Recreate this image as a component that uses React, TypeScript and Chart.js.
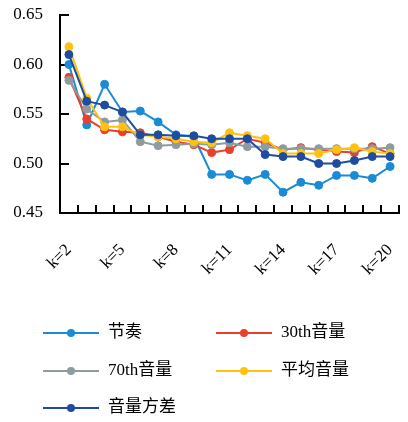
import React, { useEffect, useRef } from "react";
import { Chart, registerables } from "chart.js";

Chart.register(...registerables);

const categories = [
  "k=2", "k=3", "k=4", "k=5", "k=6", "k=7", "k=8", "k=9", "k=10", "k=11",
  "k=12", "k=13", "k=14", "k=15", "k=16", "k=17", "k=18", "k=19", "k=20",
];

const rhythm = [0.600, 0.539, 0.580, 0.552, 0.553, 0.542, 0.529, 0.527, 0.489, 0.489, 0.483, 0.489, 0.471, 0.481, 0.478, 0.488, 0.488, 0.485, 0.497];
const vol30 = [0.587, 0.545, 0.534, 0.532, 0.531, 0.527, 0.522, 0.519, 0.511, 0.514, 0.525, 0.521, 0.514, 0.516, 0.514, 0.512, 0.511, 0.517, 0.510];
const vol70 = [0.584, 0.555, 0.542, 0.544, 0.522, 0.518, 0.519, 0.520, 0.519, 0.521, 0.517, 0.517, 0.515, 0.515, 0.515, 0.515, 0.515, 0.515, 0.516];
const volMean = [0.618, 0.566, 0.537, 0.537, 0.529, 0.527, 0.525, 0.522, 0.521, 0.531, 0.528, 0.525, 0.510, 0.510, 0.510, 0.514, 0.516, 0.512, 0.510];
const volVar = [0.610, 0.563, 0.559, 0.552, 0.529, 0.529, 0.528, 0.528, 0.525, 0.525, 0.525, 0.509, 0.507, 0.507, 0.500, 0.500, 0.503, 0.507, 0.507];

const seriesNames = ["节奏", "30th音量", "70th音量", "平均音量", "音量方差"];
const seriesColors = ["#1a8bd4", "#e8402a", "#8e9ba1", "#ffc20e", "#1f4c9e"];
const seriesValues = [rhythm, vol30, vol70, volMean, volVar];

const yTicks = [0.45, 0.5, 0.55, 0.6, 0.65];

const FONT = '"Liberation Serif", "Noto Sans CJK SC", serif';

const gridLegend = {
  id: "gridLegend",
  afterDraw(chart: any) {
    const ctx = chart.ctx;
    const cols = [43, 216];
    const rows = [333, 371, 408];
    chart.data.datasets.forEach((ds: any, i: number) => {
      const x = cols[i % 2];
      const y = rows[Math.floor(i / 2)];
      ctx.save();
      ctx.strokeStyle = ds.borderColor;
      ctx.lineWidth = 2;
      ctx.beginPath();
      ctx.moveTo(x, y);
      ctx.lineTo(x + 56, y);
      ctx.stroke();
      ctx.fillStyle = ds.borderColor;
      ctx.beginPath();
      ctx.arc(x + 28, y, 4, 0, Math.PI * 2);
      ctx.fill();
      ctx.fillStyle = "#000";
      ctx.font = "17px " + FONT;
      ctx.textBaseline = "middle";
      ctx.textAlign = "left";
      ctx.fillText(ds.label, x + 65, y);
      ctx.restore();
    });
  },
};

export default function App() {
  const ref = useRef<HTMLCanvasElement | null>(null);

  useEffect(() => {
    if (!ref.current) return;
    const chart = new Chart(ref.current, {
      type: "line",
      data: {
        labels: categories,
        datasets: seriesValues.map((vals, i) => ({
          label: seriesNames[i],
          data: vals,
          borderColor: seriesColors[i],
          backgroundColor: seriesColors[i],
          pointBackgroundColor: seriesColors[i],
          pointBorderColor: seriesColors[i],
          pointBorderWidth: 1,
          pointRadius: 4,
          borderWidth: 2,
          tension: 0,
          order: seriesValues.length - i,
        })),
      },
      options: {
        animation: false,
        responsive: true,
        maintainAspectRatio: false,
        layout: { padding: { top: 15, right: 9, left: 0, bottom: 0 } },
        plugins: {
          legend: { display: false },
          tooltip: { enabled: false },
        },
        scales: {
          x: {
            type: "category",
            offset: true,
            border: { display: true, color: "#000", width: 2 },
            grid: {
              offset: true,
              drawOnChartArea: false,
              drawTicks: true,
              tickLength: -8,
              color: "#000",
              lineWidth: 2,
            },
            ticks: {
              autoSkip: false,
              minRotation: 45,
              maxRotation: 45,
              padding: 35,
              color: "#000",
              font: { family: FONT, size: 17 },
              callback: (_v: any, idx: number) => (idx % 3 === 0 ? categories[idx] : ""),
            },
            afterFit: (scale: any) => {
              scale.height = 209;
              scale.paddingLeft = 0;
              scale.paddingRight = 0;
              scale.paddingTop = 0;
              scale.paddingBottom = 0;
            },
          },
          y: {
            min: 0.45,
            max: 0.65,
            border: { display: true, color: "#000", width: 2 },
            grid: {
              drawOnChartArea: false,
              drawTicks: true,
              tickLength: -9,
              color: "#000",
              lineWidth: 2,
            },
            afterBuildTicks: (scale: any) => {
              scale.ticks = yTicks.map((v) => ({ value: v }));
            },
            ticks: {
              padding: 26,
              color: "#000",
              font: { family: FONT, size: 17 },
              callback: (v: any) => Number(v).toFixed(2),
            },
            afterFit: (scale: any) => {
              scale.width = 60;
              scale.paddingLeft = 0;
              scale.paddingRight = 0;
              scale.paddingTop = 0;
              scale.paddingBottom = 0;
            },
          },
        },
      },
      plugins: [gridLegend],
    });
    return () => chart.destroy();
  }, []);

  return (
    <div style={{ position: "fixed", left: 0, top: 0, width: 408, height: 422, background: "#fff" }}>
      <canvas ref={ref} />
    </div>
  );
}
